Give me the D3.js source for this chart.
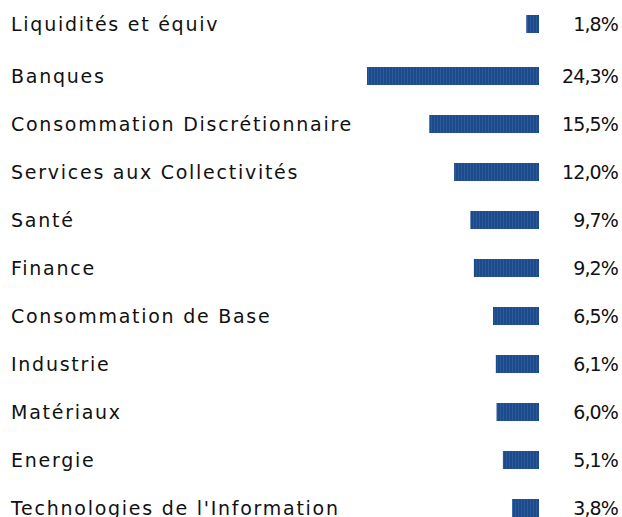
<!DOCTYPE html>
<html><head><meta charset="utf-8">
<script src="https://cdn.jsdelivr.net/npm/d3@7"></script>
<style>body{margin:0;background:#fff}svg{display:block}</style>
</head><body><svg id="c" width="622" height="517"></svg>
<script>
const categories = ["Liquidités et équiv","Banques","Consommation Discrétionnaire","Services aux Collectivités","Santé","Finance","Consommation de Base","Industrie","Matériaux","Energie","Technologies de l'Information"];
const values = [1.8,24.3,15.5,12.0,9.7,9.2,6.5,6.1,6.0,5.1,3.8];
const valueLabels = ["1,8%","24,3%","15,5%","12,0%","9,7%","9,2%","6,5%","6,1%","6,0%","5,1%","3,8%"];

const svg = d3.select("#c");
const defs = svg.append("defs");
const pat = defs.append("pattern").attr("id","stripes").attr("patternUnits","userSpaceOnUse").attr("width",3).attr("height",10);
pat.append("rect").attr("width",3).attr("height",10).attr("fill","#1d4a8b");
pat.append("rect").attr("x",2).attr("width",1).attr("height",10).attr("fill","#2a5a9c");

const y = d3.scaleBand().domain(categories).range([19, 517]).paddingInner(0.625).paddingOuter(0);
const yPos = (d,i) => y(d) - (i === 0 ? 4 : 0);
const x = d3.scaleLinear().domain([0, 24.3]).range([0, 172]);
const right = 539;
const font = "'DejaVu Sans', sans-serif";
const fs = 19;

const rows = svg.selectAll("g.row").data(categories).join("g").attr("class","row");
rows.append("rect")
  .attr("x",(d,i)=>right - x(values[i]))
  .attr("y",yPos)
  .attr("width",(d,i)=>x(values[i]))
  .attr("height",y.bandwidth())
  .attr("fill","url(#stripes)");
const labels = rows.append("text")
  .attr("x",11).attr("y",(d,i)=>yPos(d,i)+y.bandwidth()/2).attr("dy","0.36em")
  .attr("font-family",font).attr("font-size",fs).attr("fill","#111")
  .text(d=>d);
const ref = labels.filter(d=>d==="Consommation Discrétionnaire").node();
const w = ref.getComputedTextLength();
const ls = (342 - w) / 28;
labels.attr("letter-spacing", ls);
const vals = rows.append("text")
  .attr("x",618).attr("y",(d,i)=>yPos(d,i)+y.bandwidth()/2).attr("dy","0.36em")
  .attr("text-anchor","end")
  .attr("font-family",font).attr("font-size",fs).attr("fill","#111")
  .text((d,i)=>valueLabels[i]);
const vw = vals.filter((d,i)=>i===1).node().getComputedTextLength();
vals.attr("letter-spacing", (56 - vw) / 5);
</script></body></html>
